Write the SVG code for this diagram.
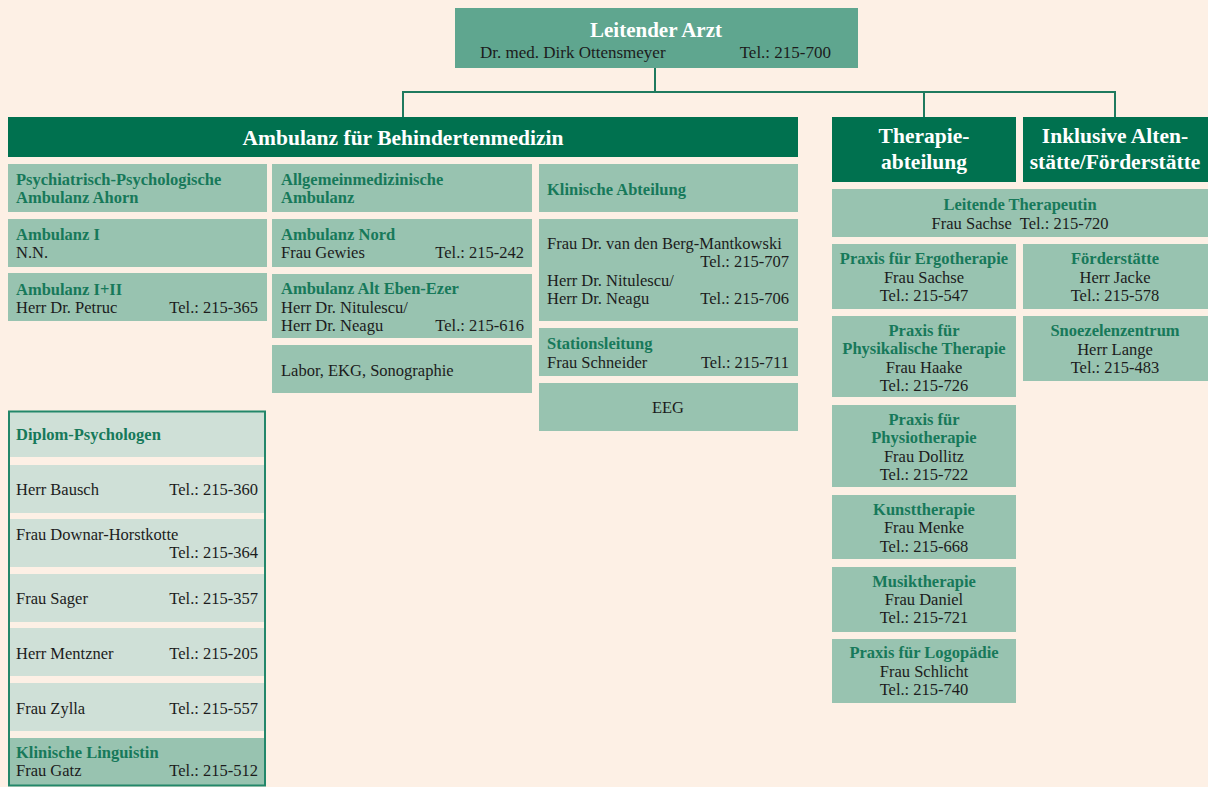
<svg xmlns="http://www.w3.org/2000/svg" width="1208" height="787" viewBox="0 0 1208 787">
<style>
text{font-family:"Liberation Serif","Times New Roman",serif;font-size:16.5px;fill:#1c1c1c}
.t{font-weight:bold;fill:#17795a}
.h{font-weight:bold;fill:#ffffff;font-size:21.5px}
.r{text-anchor:end}
.c{text-anchor:middle}
.dk{fill:#00714f}
.md{fill:#5fa68f}
.lt{fill:#98c3b0}
.pl{fill:#cfe0d7}
.con{stroke:#1f7a5e;stroke-width:2;fill:none}
</style>
<rect width="1208" height="787" fill="#fdf0e5"/>
<g id="connectors">
<path class="con" d="M655 68V92M402 92H1116M403 91V117M924 91V117M1115 91V117"/>
</g>
<g id="leitender-arzt">
<rect class="md" x="455" y="8" width="403" height="60"/>
<text class="h c" x="656" y="37" style="font-size:21px">Leitender Arzt</text>
<text x="480" y="58" style="font-size:17px">Dr. med. Dirk Ottensmeyer</text>
<text class="r" x="831" y="58" style="font-size:17px">Tel.: 215-700</text>
</g>
<g id="ambulanz-header">
<rect class="dk" x="8" y="117" width="790" height="40"/>
<text class="h c" x="403" y="145">Ambulanz für Behindertenmedizin</text>
</g>
<g id="psych-ahorn">
<rect class="lt" x="8" y="164" width="259" height="48"/>
<text class="t" x="16" y="185">Psychiatrisch-Psychologische</text>
<text class="t" x="16" y="203">Ambulanz Ahorn</text>
</g>
<g id="ambulanz-1">
<rect class="lt" x="8" y="219" width="259" height="48"/>
<text class="t" x="16" y="240">Ambulanz I</text>
<text x="16" y="258">N.N.</text>
</g>
<g id="ambulanz-1-2">
<rect class="lt" x="8" y="273" width="259" height="48"/>
<text class="t" x="16" y="295">Ambulanz I+II</text>
<text x="16" y="313">Herr Dr. Petruc</text>
<text class="r" x="258" y="313">Tel.: 215-365</text>
</g>
<g id="allgemein">
<rect class="lt" x="272" y="164" width="260" height="48"/>
<text class="t" x="281" y="185">Allgemeinmedizinische</text>
<text class="t" x="281" y="203">Ambulanz</text>
</g>
<g id="ambulanz-nord">
<rect class="lt" x="272" y="219" width="260" height="48"/>
<text class="t" x="281" y="240">Ambulanz Nord</text>
<text x="281" y="258">Frau Gewies</text>
<text class="r" x="524" y="258">Tel.: 215-242</text>
</g>
<g id="alt-eben-ezer">
<rect class="lt" x="272" y="274" width="260" height="64"/>
<text class="t" x="281" y="294">Ambulanz Alt Eben-Ezer</text>
<text x="281" y="313">Herr Dr. Nitulescu/</text>
<text x="281" y="331">Herr Dr. Neagu</text>
<text class="r" x="524" y="331">Tel.: 215-616</text>
</g>
<g id="labor">
<rect class="lt" x="272" y="345" width="260" height="48"/>
<text x="281" y="376">Labor, EKG, Sonographie</text>
</g>
<g id="klinische-abteilung">
<rect class="lt" x="539" y="164" width="259" height="48"/>
<text class="t" x="547" y="195">Klinische Abteilung</text>
</g>
<g id="klinik-aerzte">
<rect class="lt" x="539" y="219" width="259" height="102"/>
<text x="547" y="249">Frau Dr. van den Berg-Mantkowski</text>
<text class="r" x="789" y="267">Tel.: 215-707</text>
<text x="547" y="286">Herr Dr. Nitulescu/</text>
<text x="547" y="304">Herr Dr. Neagu</text>
<text class="r" x="789" y="304">Tel.: 215-706</text>
</g>
<g id="stationsleitung">
<rect class="lt" x="539" y="328" width="259" height="48"/>
<text class="t" x="547" y="349">Stationsleitung</text>
<text x="547" y="368">Frau Schneider</text>
<text class="r" x="789" y="368">Tel.: 215-711</text>
</g>
<g id="eeg">
<rect class="lt" x="539" y="383" width="259" height="48"/>
<text class="c" x="668" y="413">EEG</text>
</g>
<g id="therapie-header">
<rect class="dk" x="832" y="117" width="184" height="65"/>
<text class="h c" x="924" y="143">Therapie-</text>
<text class="h c" x="924" y="169">abteilung</text>
</g>
<g id="inklusive-header">
<rect class="dk" x="1023" y="117" width="185" height="65"/>
<text class="h c" x="1115" y="143">Inklusive Alten-</text>
<text class="h c" x="1115" y="169">stätte/Förderstätte</text>
</g>
<g id="leitende-therapeutin">
<rect class="lt" x="832" y="189" width="376" height="48"/>
<text class="t c" x="1020" y="210">Leitende Therapeutin</text>
<text class="c" x="1020" y="229" xml:space="preserve">Frau Sachse  Tel.: 215-720</text>
</g>
<g id="ergotherapie">
<rect class="lt" x="832" y="244" width="184" height="65"/>
<text class="t c" x="924" y="264">Praxis für Ergotherapie</text>
<text class="c" x="924" y="283">Frau Sachse</text>
<text class="c" x="924" y="301">Tel.: 215-547</text>
</g>
<g id="physikalische-therapie">
<rect class="lt" x="832" y="316" width="184" height="81"/>
<text class="t c" x="924" y="336">Praxis für</text>
<text class="t c" x="924" y="354">Physikalische Therapie</text>
<text class="c" x="924" y="373">Frau Haake</text>
<text class="c" x="924" y="391">Tel.: 215-726</text>
</g>
<g id="physiotherapie">
<rect class="lt" x="832" y="405" width="184" height="82"/>
<text class="t c" x="924" y="425">Praxis für</text>
<text class="t c" x="924" y="443">Physiotherapie</text>
<text class="c" x="924" y="462">Frau Dollitz</text>
<text class="c" x="924" y="480">Tel.: 215-722</text>
</g>
<g id="kunsttherapie">
<rect class="lt" x="832" y="495" width="184" height="64"/>
<text class="t c" x="924" y="515">Kunsttherapie</text>
<text class="c" x="924" y="533">Frau Menke</text>
<text class="c" x="924" y="552">Tel.: 215-668</text>
</g>
<g id="musiktherapie">
<rect class="lt" x="832" y="567" width="184" height="65"/>
<text class="t c" x="924" y="587">Musiktherapie</text>
<text class="c" x="924" y="605">Frau Daniel</text>
<text class="c" x="924" y="623">Tel.: 215-721</text>
</g>
<g id="logopaedie">
<rect class="lt" x="832" y="639" width="184" height="64"/>
<text class="t c" x="924" y="658">Praxis für Logopädie</text>
<text class="c" x="924" y="677">Frau Schlicht</text>
<text class="c" x="924" y="695">Tel.: 215-740</text>
</g>
<g id="foerderstaette">
<rect class="lt" x="1023" y="244" width="185" height="65"/>
<text class="t c" x="1115" y="264">Förderstätte</text>
<text class="c" x="1115" y="283">Herr Jacke</text>
<text class="c" x="1115" y="301">Tel.: 215-578</text>
</g>
<g id="snoezelenzentrum">
<rect class="lt" x="1023" y="316" width="185" height="65"/>
<text class="t c" x="1115" y="336">Snoezelenzentrum</text>
<text class="c" x="1115" y="355">Herr Lange</text>
<text class="c" x="1115" y="373">Tel.: 215-483</text>
</g>
<g id="diplom-psychologen">
<rect class="pl" x="9" y="412" width="256" height="45"/>
<text class="t" x="16" y="440">Diplom-Psychologen</text>
<rect class="pl" x="9" y="465" width="256" height="48"/>
<text x="16" y="495">Herr Bausch</text>
<text class="r" x="258" y="495">Tel.: 215-360</text>
<rect class="pl" x="9" y="519" width="256" height="48"/>
<text x="16" y="540">Frau Downar-Horstkotte</text>
<text class="r" x="258" y="558">Tel.: 215-364</text>
<rect class="pl" x="9" y="574" width="256" height="48"/>
<text x="16" y="604">Frau Sager</text>
<text class="r" x="258" y="604">Tel.: 215-357</text>
<rect class="pl" x="9" y="628" width="256" height="48"/>
<text x="16" y="659">Herr Mentzner</text>
<text class="r" x="258" y="659">Tel.: 215-205</text>
<rect class="pl" x="9" y="683" width="256" height="48"/>
<text x="16" y="714">Frau Zylla</text>
<text class="r" x="258" y="714">Tel.: 215-557</text>
<rect class="lt" x="9" y="738" width="256" height="47"/>
<text class="t" x="16" y="758">Klinische Linguistin</text>
<text x="16" y="776">Frau Gatz</text>
<text class="r" x="258" y="776">Tel.: 215-512</text>
<rect x="9" y="411.5" width="256" height="374" fill="none" stroke="#23876a" stroke-width="2"/>
</g>
</svg>
